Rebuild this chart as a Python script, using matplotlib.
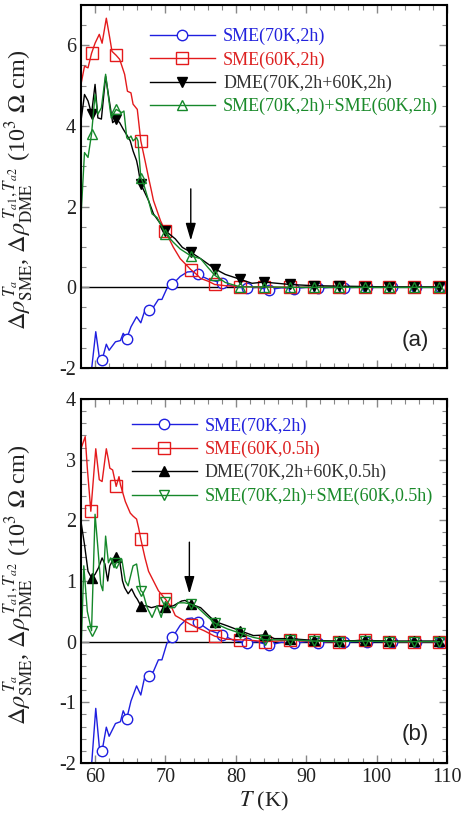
import matplotlib
matplotlib.use("Agg")
import matplotlib.pyplot as plt
from matplotlib.ticker import MultipleLocator

plt.rcParams.update({
    "font.family": ["Liberation Serif", "DejaVu Serif"],
    "mathtext.fontset": "stix",
    "axes.unicode_minus": False,
    "font.size": 14,
})

# ---- SME(70K,2h): same data in both panels ----
T_sme70 = [59.4, 60.1, 60.6, 61.0, 61.6, 62.0, 62.9, 63.6, 64.0, 64.5, 65.1, 65.9, 66.5, 67.0,
           67.6, 68.3, 69.0, 69.5, 70.2, 71.0, 72.1, 73.1, 73.8, 74.6, 76.2, 78.1, 79.7, 81.6,
           83.0, 84.7, 86.5, 88.3, 90.0, 91.7, 93.5, 95.3, 97.0, 98.7, 100.5, 102.2, 104.0,
           105.6, 107.5, 109.0]
v_sme70 = [-2.2, -1.1, -1.73, -1.8, -1.41, -1.56, -1.35, -1.32, -1.14, -1.27, -0.98, -0.73, -0.88,
           -0.61, -0.57, -0.49, -0.3, -0.3, -0.03, 0.07, 0.27, 0.38, 0.39, 0.32, 0.19, 0.11, 0.02,
           -0.02, 0.0, -0.06, -0.01, -0.03, 0.0, -0.02, 0.0, -0.01, 0.0, 0.0, 0.0, 0.0, 0.0, 0.0,
           0.0, 0.0]
mk_sme70 = [3, 9, 14, 19, 23, 25, 27, 29, 31, 33, 35, 37, 39, 41, 43]

# ---- panel (a) ----
T_a_sme60 = [58.0, 58.5, 59.0, 59.5, 60.0, 60.6, 61.0, 61.6, 62.1, 62.4, 63.0, 63.5, 64.2, 64.6,
             65.1, 65.4, 66.0, 66.5, 67.1, 67.6, 68.0, 68.3, 69.3, 70.0, 71.1, 72.1, 73.6, 74.3,
             75.0, 76.1, 77.0, 78.5, 80.6, 82.3, 84.0, 85.8, 87.7, 89.4, 91.1, 92.8, 94.6, 96.4,
             98.3, 100.0, 101.7, 103.5, 105.3, 107.1, 108.9]
v_a_sme60 = [5.03, 5.48, 5.44, 5.8, 6.05, 6.27, 6.05, 6.67, 6.17, 5.85, 5.75, 5.65, 5.28, 4.86,
             4.82, 4.54, 4.41, 3.63, 3.14, 2.72, 2.4, 2.15, 1.65, 1.39, 1.0, 0.71, 0.44, 0.34,
             0.22, 0.15, 0.07, 0.04, 0.02, 0.01, 0.01, 0.0, 0.0, 0.0, 0.0, 0.0, 0.0, 0.0, 0.0,
             0.0, 0.0, 0.0, 0.0, 0.0, 0.0]
mk_a_sme60 = [3, 10, 17, 23, 26, 30, 32, 34, 36, 38, 40, 42, 44, 46, 48]

T_a_dme = [58.0, 58.5, 59.0, 59.5, 60.0, 60.4, 60.9, 61.5, 62.1, 62.5, 63.0, 63.5, 64.0, 64.6,
           65.0, 65.4, 65.9, 66.1, 66.5, 67.6, 68.3, 70.0, 71.4, 72.4, 73.6, 75.0, 77.0, 78.5,
           80.6, 82.3, 84.0, 87.7, 91.1, 94.6, 98.3, 101.7, 105.3, 108.9]
v_a_dme = [4.12, 4.78, 4.62, 4.3, 5.03, 4.2, 4.17, 5.23, 4.54, 4.08, 4.17, 4.08, 3.92, 3.75,
           3.63, 3.38, 3.14, 2.97, 2.56, 2.15, 1.82, 1.4, 1.2, 0.99, 0.87, 0.71, 0.46, 0.32,
           0.2, 0.1, 0.13, 0.07, 0.04, 0.03, 0.02, 0.01, 0.01, 0.01]
mk_a_dme = [3, 10, 18, 21, 24, 26, 28, 30, 31, 32, 33, 34, 35, 36, 37]

T_a_sum = [58.0, 58.5, 59.0, 59.5, 60.0, 60.4, 60.9, 61.5, 62.1, 62.3, 63.0, 63.8, 64.1, 64.5,
           64.7, 65.1, 65.4, 65.9, 66.1, 66.5, 66.9, 67.6, 68.1, 68.8, 70.0, 71.1, 72.1, 73.6,
           75.0, 76.0, 77.0, 78.5, 80.6, 84.0, 87.7, 91.1, 94.6, 98.3, 101.7, 105.3, 108.9]
v_a_sum = [1.75, 3.34, 3.22, 3.8, 4.78, 4.29, 4.45, 5.28, 4.45, 4.2, 4.41, 4.33, 4.37, 3.71,
           3.67, 3.75, 3.63, 3.71, 3.63, 2.72, 2.56, 2.15, 1.82, 1.73, 1.33, 1.12, 0.95, 0.78,
           0.71, 0.5, 0.3, 0.12, 0.01, 0.01, 0.0, 0.0, 0.0, 0.0, 0.0, 0.0, 0.0]
mk_a_sum = [3, 10, 19, 24, 27, 30, 32, 33, 34, 35, 36, 37, 38, 39, 40]

# ---- panel (b) ----
T_b_sme60 = [58.0, 58.6, 58.9, 59.4, 60.1, 60.6, 61.0, 61.6, 61.9, 62.1, 62.5, 63.0, 63.4, 63.6,
             64.3, 65.0, 65.4, 65.9, 66.2, 66.5, 67.1, 67.6, 68.3, 69.0, 70.0, 70.9, 71.4, 72.3,
             73.6, 74.5, 75.5, 77.0, 78.7, 80.6, 82.3, 84.2, 85.9, 87.7, 89.4, 91.1, 92.8, 94.6,
             96.4, 98.3, 100.0, 101.7, 103.5, 105.3, 107.1, 108.9]
v_b_sme60 = [3.18, 3.38, 2.86, 2.15, 3.18, 2.67, 2.64, 3.18, 3.0, 2.86, 2.83, 2.56, 2.72, 2.59,
             2.31, 2.12, 2.07, 2.02, 1.87, 1.69, 1.38, 1.16, 1.0, 0.84, 0.7, 0.56, 0.43, 0.37,
             0.28, 0.23, 0.18, 0.09, 0.04, 0.03, 0.02, 0.0, 0.01, 0.03, 0.01, 0.02, 0.0, 0.0,
             0.01, 0.03, 0.01, 0.0, 0.0, 0.0, 0.0, 0.0]
mk_b_sme60 = [3, 11, 19, 24, 28, 31, 33, 35, 37, 39, 41, 43, 45, 47, 49]

T_b_dme = [58.0, 58.5, 59.0, 59.5, 60.0, 60.5, 61.0, 61.4, 61.8, 62.1, 62.6, 63.0, 63.5, 63.9,
           64.2, 64.7, 65.2, 65.7, 66.0, 66.5, 67.3, 68.0, 69.0, 70.0, 71.1, 72.3, 72.8, 73.6,
           75.0, 76.4, 77.1, 78.8, 80.6, 82.5, 84.2, 85.5, 87.7, 91.1, 94.6, 98.3, 101.7, 105.3,
           108.9]
v_b_dme = [1.98, 1.6, 1.16, 1.05, 1.11, 1.22, 1.38, 1.28, 1.0, 1.25, 1.36, 1.39, 1.33, 1.0,
           0.89, 0.79, 0.87, 0.75, 0.7, 0.59, 0.59, 0.56, 0.59, 0.57, 0.59, 0.67, 0.68, 0.62,
           0.56, 0.4, 0.33, 0.26, 0.18, 0.1, 0.11, 0.05, 0.05, 0.02, 0.01, 0.02, 0.01, 0.01, 0.01]
mk_b_dme = [3, 11, 19, 23, 27, 30, 32, 34, 36, 37, 38, 39, 40, 41, 42]

T_b_sum = [58.0, 58.4, 58.9, 59.5, 60.0, 60.4, 60.8, 61.1, 61.5, 61.9, 62.2, 62.7, 63.0, 63.8,
           64.3, 64.7, 65.4, 65.9, 66.5, 66.8, 67.4, 68.1, 68.8, 69.4, 70.0, 70.6, 71.3, 71.8,
           72.7, 73.6, 74.6, 75.8, 77.1, 78.8, 80.6, 82.5, 84.2, 87.7, 91.1, 94.6, 98.3, 101.7,
           105.3, 108.9]
v_b_sum = [-0.2, 1.25, 0.5, 0.18, 2.1, 1.55, 0.95, 0.84, 1.74, 1.3, 1.38, 1.22, 1.3, 1.36,
           1.0, 0.92, 1.25, 1.28, 0.84, 0.81, 0.56, 0.4, 0.59, 0.4, 0.66, 0.56, 0.56, 0.64,
           0.64, 0.62, 0.56, 0.43, 0.3, 0.21, 0.14, 0.07, 0.03, 0.03, 0.01, 0.0, 0.01, 0.0,
           0.0, 0.0]
mk_b_sum = [3, 12, 18, 24, 29, 32, 34, 36, 37, 38, 39, 40, 41, 42, 43]

BLUE = "#1f1fe0"
RED = "#e41a1c"
GREEN = "#15882a"
BLACK = "#000000"

fig = plt.figure(figsize=(4.7, 8.16), dpi=100)
ax_a = fig.add_axes([0.1723, 0.549, 0.7787, 0.445])
ax_b = fig.add_axes([0.1723, 0.065, 0.7787, 0.446])

ylab = (r"$\Delta\rho^{\,T_a}_{\rm SME}$, $\Delta\rho^{\,T_{a1},T_{a2}}_{\rm DME}$"
        r" (10$^3$ $\Omega$ cm)")


def draw_panel(ax, series, ylim, ymajor, yminor, arrow, tag, leg_anchor):
    for T, v, mk, col, marker, fill, lab in series:
        ax.plot(T, v, color=col, lw=1.0, marker=marker, markevery=mk,
                ms=7.5 if marker != "s" else 8, mfc=fill, mec=col, mew=1.0, label=lab)
    ax.axhline(0, color="black", lw=1.0, zorder=0.5)
    ax.annotate("", xy=(arrow[0], arrow[2]), xytext=(arrow[0], arrow[1]),
                arrowprops=dict(arrowstyle="-|>,head_width=0.22,head_length=0.75",
                                color="black", lw=1.0, shrinkA=0, shrinkB=0))
    ax.set_xlim(58, 110)
    ax.set_ylim(*ylim)
    ax.xaxis.set_major_locator(MultipleLocator(10))
    ax.xaxis.set_minor_locator(MultipleLocator(2))
    ax.yaxis.set_major_locator(MultipleLocator(ymajor))
    ax.yaxis.set_minor_locator(MultipleLocator(yminor))
    ax.tick_params(which="both", direction="in", top=True, right=True,
                   colors="#888888", labelcolor="#222222", labelsize=14.5)
    ax.tick_params(which="major", length=6, width=1.0)
    ax.tick_params(which="minor", length=3.5, width=0.8)
    for sp in ax.spines.values():
        sp.set_linewidth(1.5)
    ax.set_ylabel(ylab, fontsize=17.5, color="#222222")
    ax.yaxis.set_label_coords(-0.125, 0.49)
    ax.text(0.913, 0.077, tag, transform=ax.transAxes, fontsize=16,
            family="Liberation Sans", color="#222222", ha="center", va="center")
    leg = ax.legend(loc="upper left", bbox_to_anchor=leg_anchor, frameon=False,
                    fontsize=13, handlelength=3.6, handletextpad=0.45, labelspacing=0.34,
                    borderpad=0, borderaxespad=0, numpoints=1,
                    labelcolor=["#2222dd", "#dd2222", "#333333", "#1a8a2a"])
    return leg


draw_panel(ax_a,
           [(T_sme70, v_sme70, mk_sme70, BLUE, "o", "white", "SME(70K,2h)"),
            (T_a_sme60, v_a_sme60, mk_a_sme60, RED, "s", "none", "SME(60K,2h)"),
            (T_a_dme, v_a_dme, mk_a_dme, BLACK, "v", BLACK, "DME(70K,2h+60K,2h)"),
            (T_a_sum, v_a_sum, mk_a_sum, GREEN, "^", "none", "SME(70K,2h)+SME(60K,2h)")],
           (-2, 7), 2, 0.5, (73.6, 2.44, 1.16), "(a)", (0.1885, 0.937))
ax_a.tick_params(labelbottom=False)

draw_panel(ax_b,
           [(T_sme70, v_sme70, mk_sme70, BLUE, "o", "white", "SME(70K,2h)"),
            (T_b_sme60, v_b_sme60, mk_b_sme60, RED, "s", "none", "SME(60K,0.5h)"),
            (T_b_dme, v_b_dme, mk_b_dme, BLACK, "^", BLACK, "DME(70K,2h+60K,0.5h)"),
            (T_b_sum, v_b_sum, mk_b_sum, GREEN, "v", "none", "SME(70K,2h)+SME(60K,0.5h)")],
           (-2, 4), 1, 0.2, (73.4, 1.64, 0.79), "(b)", (0.139, 0.95))
ax_b.set_xlabel(r"$T$ (K)", fontsize=16, color="#222222", labelpad=2)

fig.savefig("out.png", dpi=100)
